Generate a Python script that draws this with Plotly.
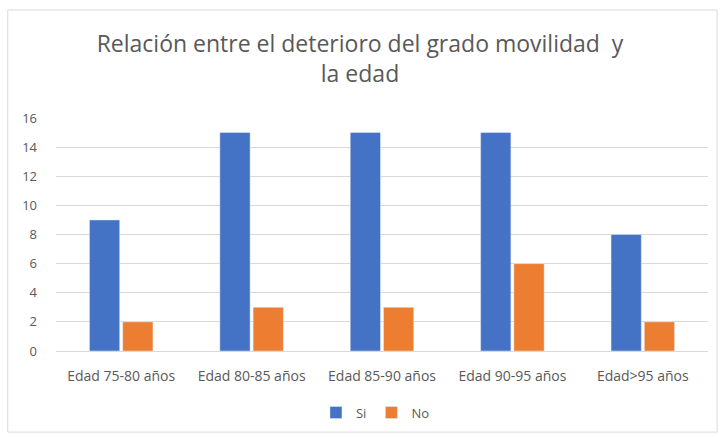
import plotly.graph_objs as go

categories = ["Edad 75-80 años", "Edad 80-85 años", "Edad 85-90 años",
              "Edad 90-95 años", "Edad>95 años"]
si_values = [9, 15, 15, 15, 8]
no_values = [2, 3, 3, 6, 2]
y_ticks = [0, 2, 4, 6, 8, 10, 12, 14, 16]

FONT = "Open Sans"
GREY = "#595959"


def main():
    fig = go.Figure()
    fig.add_trace(go.Bar(x=categories, y=si_values, name="Si", marker_color="#4472C4"))
    fig.add_trace(go.Bar(x=categories, y=no_values, name="No", marker_color="#ED7D31"))

    fig.update_layout(
        width=720, height=437,
        margin=dict(l=56, r=12, t=118, b=86, autoexpand=False),
        paper_bgcolor="white", plot_bgcolor="white",
        barmode="group", bargap=0.49, bargroupgap=0.09,
        font=dict(family=FONT, color=GREY, size=13),
        title=dict(text="Relación entre el deterioro del grado movilidad  y<br>la edad",
                   x=0.5, xanchor="center", y=0.88, yanchor="middle",
                   font=dict(size=23, color=GREY, family=FONT)),
        legend=dict(orientation="h", x=0.49, xanchor="center", y=-0.2, yanchor="top",
                    font=dict(size=13, color=GREY), itemwidth=30, tracegroupgap=0),
        showlegend=True,
    )
    fig.update_xaxes(showline=True, linecolor="#d9d9d9", ticks="", automargin=False,
                     ticklabelstandoff=12, tickfont=dict(size=14, color=GREY))
    fig.update_yaxes(range=[0, 16], tickvals=y_ticks, showgrid=True, gridcolor="#d9d9d9",
                     zeroline=False, automargin=False, ticklabelstandoff=18,
                     tickfont=dict(size=13, color=GREY), ticklen=0)

    fig.add_shape(type="rect", xref="paper", yref="paper",
                  x0=-0.074, x1=1.014, y0=-0.348, y1=1.4635,
                  line=dict(color="#d9d9d9", width=1), layer="below")

    # drop the browser's default page margin so the figure sits at 0,0
    fig.write_html("out.html", config={"displayModeBar": False},
                   post_script="document.body.style.margin='0';")


if __name__ == '__main__':
    main()
